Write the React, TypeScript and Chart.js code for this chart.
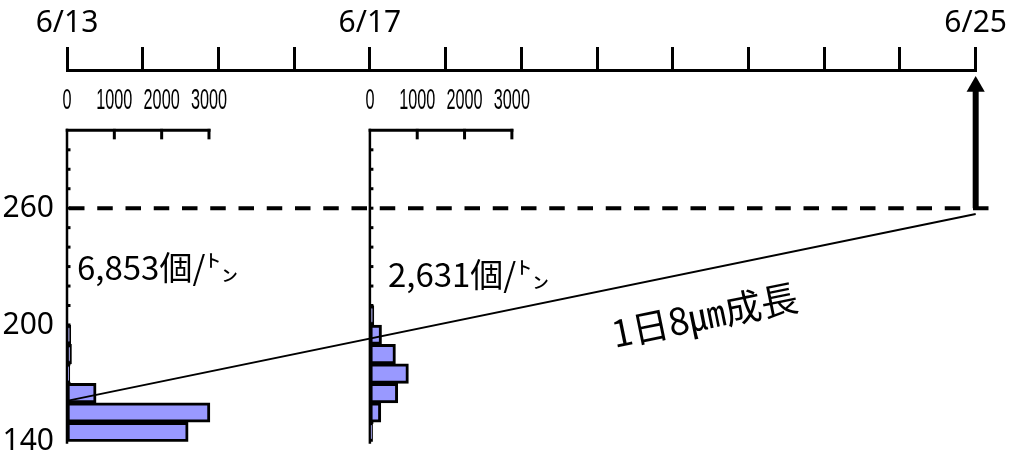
import React, { useEffect, useRef } from 'react';
import { Chart, registerables } from 'chart.js';

Chart.register(...registerables);

// ---- data ----
const DATE_TICK_LABELS = ['6/13', '', '', '', '6/17', '', '', '', '', '', '', '', '6/25'];
const SIZE_TICKS = [140, 200, 260];
const COUNT_TICKS = [0, 1000, 2000, 3000];
const BIN_CENTERS = [145, 155, 165, 175, 185, 195, 205];
const HIST_0613 = [2560, 3020, 615, 60, 95, 80, null];
const HIST_0617 = [57, 231, 589, 814, 540, 246, 84];
const HIST_DAYS = [0, 4];
const HIST_TOTALS = ['6,853個/㌧', '2,631個/㌧'];
const TARGET_SIZE = 260;
const GROWTH_DAYS = [0, 12];
const GROWTH_SIZES = [161, 257];
const GROWTH_LABEL = '1日8㎛成長';
const ARROW_DAY = 12;
const ARROW_SIZES = [260, 322.5];

// ---- scale set-up (style) ----
const DAY_MIN = 0;
const DAY_MAX = 12;
const DASH_END_DAY = 12.31;
const SIZE_MIN = 140;
const SIZE_MAX = 331;
const FRAME_TOP = 300;
const COUNTS_PER_DAY = 1600;

const histData = (vals: (number | null)[]) =>
  BIN_CENTERS.map((y, i) => ({ x: vals[i], y })).filter((d) => d.x !== null);

const overlayPlugin = {
  id: 'overlay',
  beforeDatasetsDraw(chart: any) {
    const { ctx } = chart;
    const ys = chart.scales.y;
    const top = ys.getPixelForValue(FRAME_TOP);
    HIST_DAYS.forEach((_, i) => {
      const hs = chart.scales['h' + i];
      const x0 = hs.getPixelForValue(0);
      const xEnd = hs.getPixelForValue(COUNT_TICKS[COUNT_TICKS.length - 1]);
      ctx.save();
      ctx.strokeStyle = '#000';
      ctx.fillStyle = '#000';
      ctx.lineWidth = 3;
      ctx.beginPath();
      ctx.moveTo(x0 - 1.25, top);
      ctx.lineTo(xEnd + 1.5, top);
      ctx.stroke();
      COUNT_TICKS.slice(1).forEach((c) => {
        const px = hs.getPixelForValue(c);
        ctx.beginPath();
        ctx.moveTo(px, top - 1.5);
        ctx.lineTo(px, top + 9);
        ctx.stroke();
      });
      ctx.lineWidth = 2.5;
      ctx.beginPath();
      ctx.moveTo(x0, top - 1.5);
      ctx.lineTo(x0, ys.bottom + 2);
      ctx.stroke();
      ctx.lineWidth = 3;
      for (let v = SIZE_MIN + 10; v < FRAME_TOP; v += 10) {
        const py = ys.getPixelForValue(v);
        ctx.beginPath();
        ctx.moveTo(x0, py);
        ctx.lineTo(x0 + 3.5, py);
        ctx.stroke();
      }
      ctx.font = '29px "Liberation Sans", Arial, sans-serif';
      ctx.textAlign = 'center';
      ctx.textBaseline = 'alphabetic';
      COUNT_TICKS.forEach((c) => {
        const px = hs.getPixelForValue(c);
        ctx.save();
        ctx.translate(px, top - 21.5);
        ctx.scale(0.56, 1);
        ctx.fillText(String(c), 0, 0);
        ctx.restore();
      });
      ctx.restore();
    });
  },
  afterDatasetsDraw(chart: any) {
    const { ctx } = chart;
    const xs = chart.scales.x;
    const ys = chart.scales.y;
    const totalPos = [
      { dx: 10, size: 222.9 },
      { dx: 18, size: 219.3 },
    ];
    ctx.save();
    ctx.fillStyle = '#000';
    ctx.font = '33px "Noto Sans CJK JP", sans-serif';
    ctx.textAlign = 'left';
    ctx.textBaseline = 'alphabetic';
    HIST_DAYS.forEach((d, i) => {
      ctx.fillText(
        HIST_TOTALS[i],
        xs.getPixelForValue(d) + totalPos[i].dx,
        ys.getPixelForValue(totalPos[i].size)
      );
    });
    const x0 = xs.getPixelForValue(GROWTH_DAYS[0]);
    const y0 = ys.getPixelForValue(GROWTH_SIZES[0]);
    const x1 = xs.getPixelForValue(GROWTH_DAYS[1]);
    const y1 = ys.getPixelForValue(GROWTH_SIZES[1]);
    const angle = Math.atan2(y1 - y0, x1 - x0);
    ctx.translate(xs.getPixelForValue(8.42), ys.getPixelForValue(205));
    ctx.rotate(angle);
    ctx.textAlign = 'center';
    ctx.textBaseline = 'middle';
    ctx.font = '37px "Noto Sans CJK JP", sans-serif';
    ctx.fillText(GROWTH_LABEL, 0, 0);
    ctx.restore();
  },
};

export default function App() {
  const ref = useRef<HTMLCanvasElement>(null);

  useEffect(() => {
    document.body.style.margin = '0';
    const barStyle = {
      type: 'bar' as const,
      indexAxis: 'y' as const,
      yAxisID: 'y',
      backgroundColor: '#9999FF',
      borderColor: '#000',
      borderWidth: 3,
      borderSkipped: false,
      grouped: false,
      barPercentage: 1,
      categoryPercentage: 1,
    };
    const histScale = (day: number) => ({
      type: 'linear' as const,
      axis: 'x' as const,
      position: 'bottom' as const,
      display: false,
      offset: false,
      min: (DAY_MIN - day) * COUNTS_PER_DAY,
      max: (DAY_MAX - day) * COUNTS_PER_DAY,
    });

    const chart = new Chart(ref.current as HTMLCanvasElement, {
      type: 'line',
      data: {
        datasets: [
          {
            type: 'line',
            label: 'arrow',
            xAxisID: 'x',
            yAxisID: 'y',
            data: ARROW_SIZES.map((y) => ({ x: ARROW_DAY, y })),
            borderColor: '#000',
            borderWidth: 6,
            pointRadius: [0, 10.5],
            pointHoverRadius: 0,
            pointStyle: 'triangle',
            pointBackgroundColor: '#000',
            pointBorderColor: '#000',
            pointBorderWidth: 0,
            clip: false,
          } as any,
          {
            type: 'line',
            label: 'growth',
            xAxisID: 'x',
            yAxisID: 'y',
            data: GROWTH_DAYS.map((x, i) => ({ x, y: GROWTH_SIZES[i] })),
            borderColor: '#000',
            borderWidth: 2,
            pointRadius: 0,
            clip: false,
          },
          {
            type: 'line',
            label: 'target',
            xAxisID: 'x',
            yAxisID: 'y',
            data: [
              { x: DAY_MIN, y: TARGET_SIZE },
              { x: DASH_END_DAY, y: TARGET_SIZE },
            ],
            borderColor: '#000',
            borderWidth: 4,
            borderDash: [15.5, 12.75],
            borderDashOffset: -2,
            pointRadius: 0,
            clip: false,
          },
          { ...barStyle, label: '6/13', xAxisID: 'h0', data: histData(HIST_0613) } as any,
          { ...barStyle, label: '6/17', xAxisID: 'h1', data: histData(HIST_0617) } as any,
        ],
      },
      options: {
        responsive: false,
        animation: false,
        devicePixelRatio: 1,
        layout: { padding: { top: 0, left: 0, right: 33, bottom: 9 } },
        plugins: { legend: { display: false }, tooltip: { enabled: false } },
        events: [],
        scales: {
          x: {
            type: 'linear',
            position: 'top',
            offset: false,
            min: DAY_MIN,
            max: DAY_MAX,
            afterBuildTicks: (s: any) => {
              s.ticks = DATE_TICK_LABELS.map((_, i) => ({ value: DAY_MIN + i }));
            },
            afterFit: (s: any) => {
              s.height = 70;
            },
            ticks: {
              autoSkip: false,
              maxRotation: 0,
              padding: 6,
              color: '#000',
              font: { family: '"Noto Sans", sans-serif', size: 30 },
              callback: (v: any) => DATE_TICK_LABELS[Math.round(Number(v) - DAY_MIN)] ?? '',
            },
            grid: {
              display: true,
              drawOnChartArea: false,
              drawTicks: true,
              tickLength: 23,
              lineWidth: 3,
              color: '#000',
              offset: false,
            },
            border: { display: true, width: 3, color: '#000' },
          },
          y: {
            type: 'linear',
            position: 'left',
            offset: false,
            min: SIZE_MIN,
            max: SIZE_MAX,
            afterBuildTicks: (s: any) => {
              s.ticks = SIZE_TICKS.map((v) => ({ value: v }));
            },
            afterFit: (s: any) => {
              s.width = 67;
            },
            ticks: {
              padding: 5,
              color: '#000',
              font: { family: '"Noto Sans", sans-serif', size: 30, lineHeight: 0.55 },
            },
            grid: { display: false, offset: false },
            border: { display: false },
          },
          h0: histScale(HIST_DAYS[0]),
          h1: histScale(HIST_DAYS[1]),
        } as any,
      },
      plugins: [overlayPlugin],
    });
    return () => chart.destroy();
  }, []);

  return (
    <div style={{ width: 1013, height: 455, background: '#fff' }}>
      <canvas ref={ref} width={1013} height={455} style={{ display: 'block' }} />
    </div>
  );
}
